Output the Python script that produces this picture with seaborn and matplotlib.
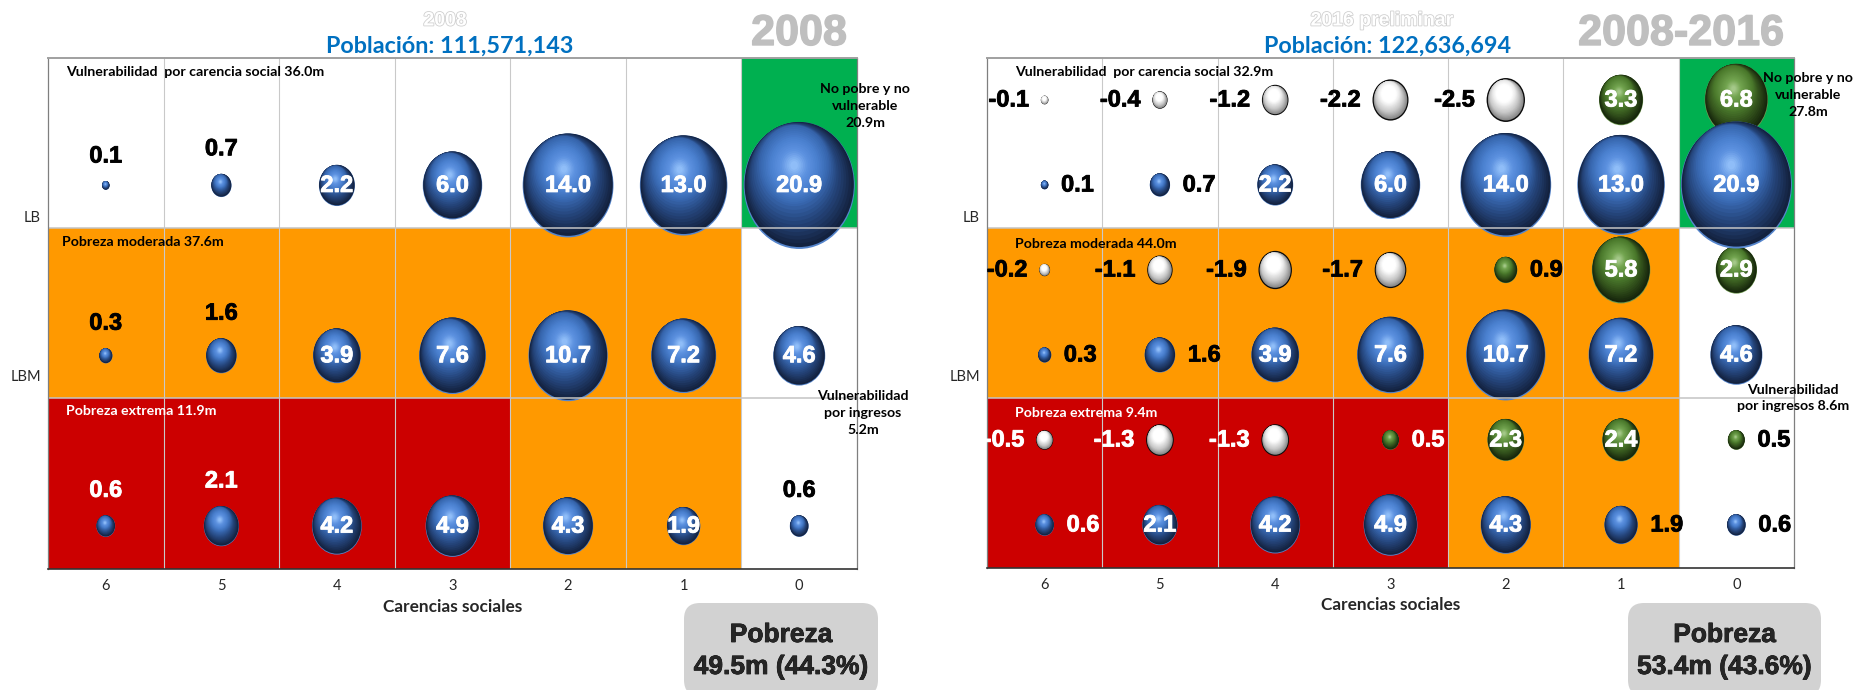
import numpy as np
import pandas as pd
import seaborn as sns
import matplotlib.pyplot as plt
from matplotlib.colors import ListedColormap
from matplotlib.patches import FancyBboxPatch
from matplotlib.path import Path
from matplotlib.transforms import IdentityTransform
import matplotlib.patheffects as pe

carencias = [6, 5, 4, 3, 2, 1, 0]

# pobreza 2008, filas: sobre LB, entre LBM y LB, bajo LBM
fila_lb = [0.1, 0.7, 2.2, 6.0, 14.0, 13.0, 20.9]
fila_lbm = [0.3, 1.6, 3.9, 7.6, 10.7, 7.2, 4.6]
fila_ext = [0.6, 2.1, 4.2, 4.9, 4.3, 1.9, 0.6]

# cambio 2008-2016
cambio_lb = [-0.1, -0.4, -1.2, -2.2, -2.5, 3.3, 6.8]
cambio_lbm = [-0.2, -1.1, -1.9, -1.7, 0.9, 5.8, 2.9]
cambio_ext = [-0.5, -1.3, -1.3, 0.5, 2.3, 2.4, 0.5]

# 0 blanco, 1 naranja, 2 rojo, 3 verde
zonas = [[0, 0, 0, 0, 0, 0, 3],
         [1, 1, 1, 1, 1, 1, 0],
         [2, 2, 2, 2, 1, 1, 0]]
zona_colores = ["#FFFFFF", "#FF9900", "#CC0000", "#00B050"]

azul = ["#5585CC", "#13223F", "#244378", "#3868B0", "#4A80CF", "#5D92E0", "#8FBDF8"]
verde = ["#6F9A50", "#16260C", "#33521C", "#4B7A2C", "#5F8F3E", "#72A44F", "#A4C888"]
blanco = ["#0A0A0A", "#8A8A8A", "#C8C8C8", "#ECECEC", "#FFFFFF", "#FFFFFF", "#FFFFFF"]

N_CAPAS = 30
W, H = 1858, 690

sns.set_theme(style="white")
plt.rcParams['font.family'] = ['Lato', 'DejaVu Sans']


def px(x, y):
    return x / W, 1 - y / H


def marcador(t, r0, sube):
    """Elipse reducida y desplazada hacia el brillo, con ancla para fijar la escala."""
    r = r0 * (1 - 0.93 * t)
    cx = -min(0.36 * t, 0.08)
    cy = sube + min(0.78 * t, 0.30)
    circulo = Path.unit_circle()
    verts = circulo.vertices * [0.874 * r, r] + [cx, cy]
    verts = np.vstack([[[1, 1]], verts])
    codes = np.concatenate([[Path.MOVETO], circulo.codes])
    return Path(verts, codes)


def esferas(ax, df, colores, r0=0.985, sube=0.015):
    capas = sns.blend_palette(colores[1:], n_colors=N_CAPAS)
    marcas = [(colores[0], marcador(0, 1, 0))]
    for i, color in enumerate(capas):
        marcas.append((color, marcador(i / (N_CAPAS - 1), r0, sube)))
    for color, marca in marcas:
        sns.scatterplot(data=df, x="pos", y="fila", size="tam", size_norm=(0, 21),
                        sizes=(0, 8400), marker=marca, color=color,
                        edgecolor="none", linewidth=0, legend=False, ax=ax)


def cuadro(fila, valores):
    return pd.DataFrame({"pos": np.arange(len(valores)) + 0.5, "fila": fila,
                         "valor": valores, "tam": np.abs(valores)})


def etiqueta(ax, x, y, valor, dx=0, dy=0, color="white"):
    t = ax.annotate(f"{valor:.1f}", (x, y), xytext=(dx * 0.72, dy * 0.72),
                    textcoords="offset points", ha="center", va="center",
                    fontsize=17, fontweight="bold", color=color,
                    family="Liberation Sans", zorder=20)
    t.set_path_effects([pe.withStroke(linewidth=0.6, foreground=color)])


def base(fig, rect):
    ax = fig.add_axes(rect)
    sns.heatmap(zonas, cmap=ListedColormap(zona_colores), vmin=0, vmax=3, cbar=False,
                xticklabels=carencias, yticklabels=False, ax=ax)
    return ax


def terminar(ax):
    ax.set_xlim(0, 7)
    ax.set_ylim(3, 0)
    for x in range(1, 7):
        ax.axvline(x, color="#C9C9C9", lw=0.8, zorder=1.5)
    for y in (1, 2):
        ax.axhline(y, color="#C4C4C4", lw=1.1, zorder=1.5)
    ax.set_yticks([0.935, 1.868], ["LB", "LBM"], fontsize=10.5, rotation=0)
    ax.tick_params(axis="y", length=0, labelsize=10.5, pad=5)
    ax.tick_params(axis="x", length=0, labelsize=10.5, pad=7.5, labelrotation=0)
    ax.set_xlabel("Carencias sociales", fontsize=12.4, fontweight="bold", labelpad=4)
    ax.set_ylabel("")
    for lado, spine in ax.spines.items():
        spine.set_visible(True)
        spine.set_color("#7F7F7F")
        spine.set_linewidth(0.9)
    ax.spines["bottom"].set_color("#333333")
    ax.spines["bottom"].set_linewidth(1.2)
    ax.spines["top"].set_color("#A0A0A0")
    ax.spines["top"].set_linewidth(1.4)


def nota(fig, x, y, texto, color="black", ha="left", size=10.2):
    fig.text(*px(x, y), texto, ha=ha, va="center", color=color, fontsize=size,
             fontweight="bold", linespacing=1.5, zorder=30)


def titulos(fig, xc, fantasma, xf, poblacion, grande, xg):
    t = fig.text(*px(xf, 21), fantasma, ha="center", va="center", fontsize=14,
                 color="white", fontweight="bold", family="Liberation Sans")
    t.set_path_effects([pe.withStroke(linewidth=1.2, foreground="#D0D0D0")])
    fig.text(*px(xc, 46), poblacion, ha="center", va="center", fontsize=16.8,
             color="#0070C0", fontweight="bold")
    g = fig.text(*px(xg, 34), grande, ha="center", va="center", fontsize=31,
                 color="#BFBFBF", fontweight="bold", family="Liberation Sans")
    g.set_path_effects([pe.withStroke(linewidth=1.0, foreground="#BFBFBF")])


def caja(fig, x0, x1, lin1, lin2):
    y0, y1 = H - 690 - 6, H - 603
    fig.add_artist(FancyBboxPatch((x0 + 14, y0 + 14), x1 - x0 - 28, y1 - y0 - 28,
                                  boxstyle="round,pad=14,rounding_size=16",
                                  transform=IdentityTransform(), fc="#D2D2D2", ec="none"))
    xc = (x0 + x1) / 2
    for y, linea in ((635, lin1), (667, lin2)):
        t = fig.text(*px(xc, y), linea, ha="center", va="center", fontsize=19,
                     fontweight="bold", family="Liberation Sans")
        t.set_path_effects([pe.withStroke(linewidth=0.5, foreground="black")])


fig = plt.figure(figsize=(W / 100, H / 100), dpi=100)

# panel 2008
ax1 = base(fig, [48 / W, 1 - 568.7 / H, 809 / W, 511 / H])
filas = [(0.75, fila_lb), (1.75, fila_lbm), (2.75, fila_ext)]
for y, valores in filas:
    df = cuadro(y, valores)
    esferas(ax1, df, azul)
    for _, f in df.iterrows():
        if f.valor in (0.1, 0.7, 0.3, 1.6, 0.6, 2.1):
            color = "white" if y == 2.75 and f.pos < 4 else "black"
            etiqueta(ax1, f.pos, y, f.valor, dy=13.9 * np.sqrt(f.valor) + 25, color=color)
        else:
            etiqueta(ax1, f.pos, y, f.valor)
terminar(ax1)

# panel 2008-2016
ax2 = base(fig, [987 / W, 1 - 567.5 / H, 807 / W, 510 / H])
cambios = [(0.25, cambio_lb), (1.25, cambio_lbm), (2.25, cambio_ext)]
for y, valores in cambios:
    df = cuadro(y, valores)
    esferas(ax2, df[df.valor < 0], blanco, r0=0.93, sube=0)
    esferas(ax2, df[df.valor > 0], verde)
    for _, f in df.iterrows():
        color = "white" if y == 2.25 and f.pos < 4 else "black"
        r = 12.15 * np.sqrt(abs(f.valor))
        if f.valor < 0:
            etiqueta(ax2, f.pos, y, f.valor, dx=-r - 32, color=color)
        elif f.valor < 1:
            etiqueta(ax2, f.pos, y, f.valor, dx=r + 29, color=color)
        else:
            etiqueta(ax2, f.pos, y, f.valor)
for y, valores in filas:
    df = cuadro(y, valores)
    esferas(ax2, df, azul)
    for _, f in df.iterrows():
        if f.valor in (0.1, 0.7, 0.3, 1.6, 0.6, 1.9):
            color = "white" if y == 2.75 and f.pos < 4 else "black"
            etiqueta(ax2, f.pos, y, f.valor, dx=12.15 * np.sqrt(f.valor) + 29, color=color)
        else:
            etiqueta(ax2, f.pos, y, f.valor)
terminar(ax2)

titulos(fig, 450, "2008", 445, "Población: 111,571,143", "2008", 799)
titulos(fig, 1388, "2016 preliminar", 1382, "Población: 122,636,694", "2008-2016", 1681)

nota(fig, 66, 72, "Vulnerabilidad  por carencia social 36.0m")
nota(fig, 62, 242, "Pobreza moderada 37.6m")
nota(fig, 66, 411, "Pobreza extrema 11.9m", color="white")
nota(fig, 865, 106, "No pobre y no\nvulnerable\n20.9m", ha="center")
nota(fig, 863, 413, "Vulnerabilidad\npor ingresos\n5.2m", ha="center")

nota(fig, 1015, 72, "Vulnerabilidad  por carencia social 32.9m")
nota(fig, 1015, 244, "Pobreza moderada 44.0m")
nota(fig, 1015, 413, "Pobreza extrema 9.4m", color="white")
nota(fig, 1808, 95, "No pobre y no\nvulnerable\n27.8m", ha="center")
nota(fig, 1793, 398, "Vulnerabilidad\npor ingresos 8.6m", ha="center")

caja(fig, 684, 878, "Pobreza", "49.5m (44.3%)")
caja(fig, 1628, 1821, "Pobreza", "53.4m (43.6%)")

fig.savefig("out.png", dpi=100)
